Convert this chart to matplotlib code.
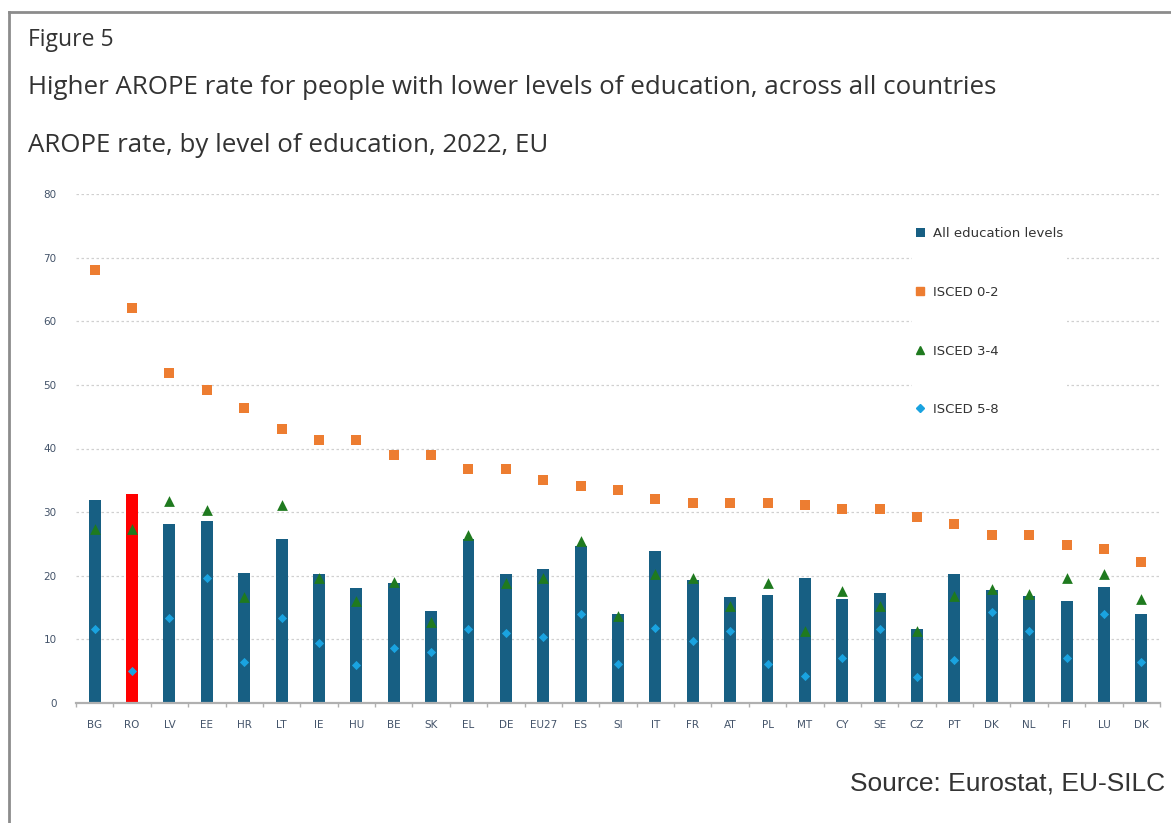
import numpy as np
import matplotlib
matplotlib.use("Agg")
import matplotlib.pyplot as plt
from matplotlib.lines import Line2D
from matplotlib.patches import Patch

# Data (AROPE rate, %, 2022)
countries = ["BG", "RO", "LV", "EE", "HR", "LT", "IE", "HU", "BE", "SK",
             "EL", "DE", "EU27", "ES", "SI", "IT", "FR", "AT", "PL", "MT",
             "CY", "SE", "CZ", "PT", "DK", "NL", "FI", "LU", "DK"]
all_levels = [31.9, 32.8, 28.1, 28.6, 20.5, 25.7, 20.3, 18.1, 18.8, 14.5,
              25.8, 20.3, 21.1, 24.7, 14.0, 23.9, 19.3, 16.6, 17.0, 19.7,
              16.4, 17.3, 11.6, 20.3, 17.8, 16.8, 16.0, 18.2, 14.0]
isced_02 = [68.0, 62.1, 51.8, 49.2, 46.4, 43.1, 41.4, 41.4, 38.9, 38.9,
            36.8, 36.8, 35.0, 34.1, 33.5, 32.0, 31.4, 31.4, 31.4, 31.1,
            30.5, 30.5, 29.3, 28.2, 26.4, 26.4, 24.8, 24.2, 22.1]
isced_34 = [27.3, 27.4, 31.7, 30.4, 16.7, 31.1, 19.7, 16.1, 19.0, 12.8,
            26.4, 18.8, 19.7, 25.4, 13.7, 20.3, 19.7, 15.2, 18.8, 11.3,
            17.6, 15.2, 11.3, 16.8, 17.9, 17.2, 19.7, 20.3, 16.3]
isced_58 = [11.6, 5.0, 13.3, 19.7, 6.5, 13.3, 9.5, 5.9, 8.6, 8.0,
            11.6, 11.0, 10.3, 14.0, 6.1, 11.8, 9.8, 11.3, 6.1, 4.3,
            7.1, 11.6, 4.1, 6.8, 14.3, 11.3, 7.1, 14.0, 6.5]
highlight = "RO"

BAR_COLOR = "#175f83"
HIGHLIGHT_COLOR = "#ff0000"
ORANGE = "#ed7d31"
GREEN = "#1f7a1f"
LIGHT_BLUE = "#1aa3e0"
TEXT_COLOR = "#333333"
TICK_COLOR = "#44546a"

fig = plt.figure(figsize=(11.71, 8.23), dpi=100)

# outer frame (left and top border like the source document)
fig.add_artist(Line2D([9 / 1171, 9 / 1171], [0, 1 - 12 / 823],
                      transform=fig.transFigure, color="#8c8c8c", lw=2))
fig.add_artist(Line2D([9 / 1171, 1], [1 - 12 / 823, 1 - 12 / 823],
                      transform=fig.transFigure, color="#8c8c8c", lw=2))

# headings
fig.text(28 / 1171, 1 - 40 / 823, "Figure 5", fontsize=16.5, family="Open Sans",
         color=TEXT_COLOR, va="center", ha="left")
fig.text(28 / 1171, 1 - 88 / 823,
         "Higher AROPE rate for people with lower levels of education, across all countries",
         fontsize=18.6, family="Open Sans", color=TEXT_COLOR, va="center", ha="left")
fig.text(28 / 1171, 1 - 145 / 823, "AROPE rate, by level of education, 2022, EU",
         fontsize=18.6, family="Open Sans", color=TEXT_COLOR, va="center", ha="left")
fig.text(1165 / 1171, 1 - 783 / 823, "Source: Eurostat, EU-SILC", fontsize=19,
         family="Liberation Sans", color=TEXT_COLOR, va="center", ha="right")

ax = fig.add_axes([76 / 1171, 1 - 703 / 823, (1160 - 76) / 1171, (703 - 194) / 823])
x = np.arange(len(countries))
colors = [HIGHLIGHT_COLOR if c == highlight else BAR_COLOR for c in countries]

ax.bar(x, all_levels, width=0.32, color=colors, zorder=2)
ax.scatter(x, isced_02, marker="s", s=60, color=ORANGE, zorder=3, linewidths=0)
ax.scatter(x, isced_34, marker="^", s=60, color=GREEN, zorder=3, linewidths=0)
ax.scatter(x, isced_58, marker="D", s=22, color=LIGHT_BLUE, zorder=4, linewidths=0)

ax.set_xlim(-0.5, len(countries) - 0.5)
ax.set_ylim(0, 80)
ax.set_yticks(np.arange(0, 81, 10))
ax.yaxis.grid(True, linestyle=(0, (2, 2)), color="#d0d0d0", lw=0.9, zorder=0)
ax.set_axisbelow(True)

for side in ["left", "right", "top"]:
    ax.spines[side].set_visible(False)
ax.spines["bottom"].set_color("#b0b0b0")
ax.spines["bottom"].set_linewidth(1.6)

ax.set_xticks(x)
ax.set_xticklabels(countries)
ax.set_xticks(np.arange(-0.5, len(countries)), minor=True)
ax.tick_params(axis="x", which="major", length=0, pad=12, labelsize=7.5,
               labelcolor=TICK_COLOR)
ax.tick_params(axis="x", which="minor", length=3, color="#b0b0b0", width=1)
ax.tick_params(axis="y", length=0, pad=14, labelsize=7.5, labelcolor=TICK_COLOR)

handles = [
    Patch(facecolor=BAR_COLOR, label="All education levels"),
    Line2D([], [], marker="s", color=ORANGE, ls="none", markersize=6, label="ISCED 0-2"),
    Line2D([], [], marker="^", color=GREEN, ls="none", markersize=6, label="ISCED 3-4"),
    Line2D([], [], marker="D", color=LIGHT_BLUE, ls="none", markersize=4, label="ISCED 5-8"),
]
leg = ax.legend(handles=handles, loc="upper left", bbox_to_anchor=(0.765, 0.955),
                frameon=True, facecolor="white", edgecolor="none", framealpha=1,
                fontsize=9.5, labelspacing=3.45, handlelength=0.7, handletextpad=0.6,
                borderpad=0.3)
for t in leg.get_texts():
    t.set_color(TEXT_COLOR)

fig.savefig("out.png", dpi=100, facecolor="white")
